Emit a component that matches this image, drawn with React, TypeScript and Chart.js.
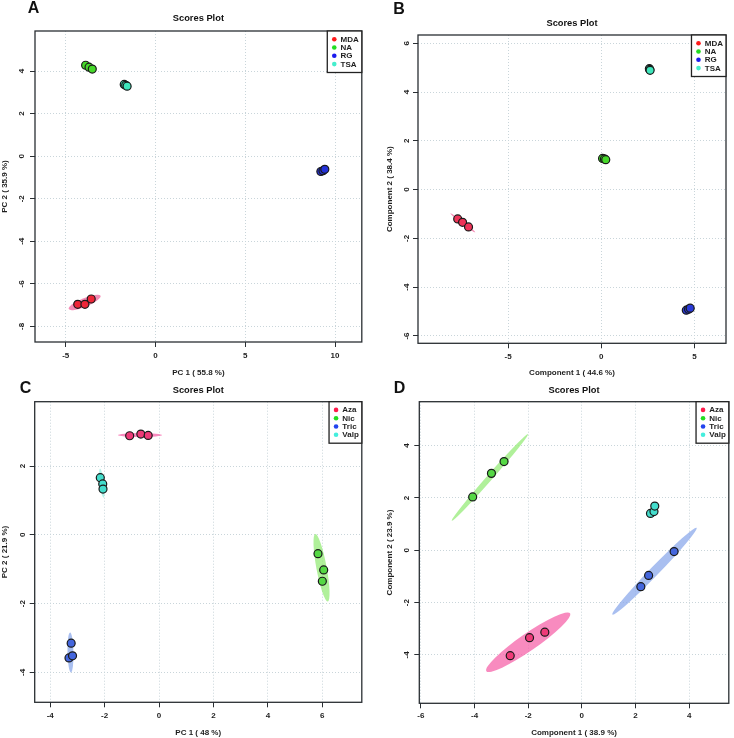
import React, { useEffect, useRef } from 'react';
import { Chart, registerables } from 'chart.js';

Chart.register(...registerables);

const FONT = "'Liberation Sans', Arial, Helvetica, sans-serif";

// ---------- Group names ----------
const groupsAB = ['MDA', 'NA', 'RG', 'TSA'];
const groupsCD = ['Aza', 'Nic', 'Tric', 'Valp'];

// ---------- Colours ----------
const legendColorsAB = ['#ff1a1a', '#22dd22', '#1a1aee', '#44eecc'];
const pointColorsA = ['#ee2638', '#46d82a', '#2432d8', '#3fe6bc'];
const pointColorsB = ['#ee3358', '#46d82a', '#2a3ad8', '#3fe6bc'];
const legendColorsCD = ['#ff1a4a', '#22dd22', '#2244ee', '#44eedd'];
const pointColorsCD = ['#ee3a78', '#55d844', '#4466dd', '#44ddcc'];
const ellipseColorsAB = ['rgba(240,90,150,0.7)'];
const ellipseColorsCD = ['rgba(245,100,170,0.75)', 'rgba(150,235,120,0.75)', 'rgba(140,170,235,0.75)', 'rgba(150,240,225,0.7)'];

// ---------- Panel A (PCA) ----------
const aMDA_x = [-4.33, -3.93, -3.58];
const aMDA_y = [-6.96, -6.96, -6.71];
const aNA_x = [-3.89, -3.70, -3.52];
const aNA_y = [4.27, 4.18, 4.09];
const aRG_x = [9.21, 9.33, 9.43];
const aRG_y = [-0.72, -0.68, -0.62];
const aTSA_x = [-1.74, -1.66, -1.58];
const aTSA_y = [3.37, 3.33, 3.29];
const aXTicks = [-5, 0, 5, 10];
const aYTicks = [-8, -6, -4, -2, 0, 2, 4];
// ellipse: [x1, y1, x2, y2, minor/major ratio, group index]
const aEllipses = [[-4.83, -7.18, -3.06, -6.56, 0.25, 0]];

// ---------- Panel B (PLS-DA) ----------
const bMDA_x = [-7.70, -7.44, -7.12];
const bMDA_y = [-1.20, -1.34, -1.53];
const bNA_x = [0.07, 0.17, 0.24];
const bNA_y = [1.28, 1.26, 1.23];
const bRG_x = [4.56, 4.68, 4.77];
const bRG_y = [-4.94, -4.90, -4.86];
const bTSA_x = [2.58, 2.60, 2.62];
const bTSA_y = [4.96, 4.93, 4.89];
const bXTicks = [-5, 0, 5];
const bYTicks = [-6, -4, -2, 0, 2, 4, 6];
const bEllipses = [[-8.1, -0.97, -6.76, -1.75, 0.07, 0]];

// ---------- Panel C (PCA) ----------
const cAza_x = [-1.08, -0.67, -0.40];
const cAza_y = [2.88, 2.93, 2.89];
const cNic_x = [5.84, 6.05, 6.00];
const cNic_y = [-0.55, -1.02, -1.35];
const cTric_x = [-3.23, -3.31, -3.18];
const cTric_y = [-3.15, -3.58, -3.52];
const cValp_x = [-2.16, -2.07, -2.06];
const cValp_y = [1.66, 1.48, 1.33];
const cXTicks = [-4, -2, 0, 2, 4, 6];
const cYTicks = [-4, -2, 0, 2];
const cEllipses = [
  [-1.51, 2.9, 0.11, 2.9, 0.09, 0],
  [5.74, 0.02, 6.2, -1.94, 0.15, 1],
  [-3.27, -2.84, -3.24, -4.0, 0.15, 2],
  [-2.17, 1.92, -2.04, 1.08, 0.14, 3],
];

// ---------- Panel D (PLS-DA) ----------
const dAza_x = [-2.67, -1.95, -1.38];
const dAza_y = [-4.03, -3.34, -3.13];
const dNic_x = [-4.07, -3.37, -2.90];
const dNic_y = [2.04, 2.94, 3.39];
const dTric_x = [2.20, 2.49, 3.44];
const dTric_y = [-1.39, -0.96, -0.05];
const dValp_x = [2.56, 2.69, 2.72];
const dValp_y = [1.41, 1.48, 1.69];
const dXTicks = [-6, -4, -2, 0, 2, 4];
const dYTicks = [-4, -2, 0, 2, 4];
const dEllipses = [
  [-3.56, -4.62, -0.44, -2.41, 0.17, 0],
  [-4.85, 1.13, -2.01, 4.44, 0.05, 1],
  [1.14, -2.46, 4.28, 0.86, 0.075, 2],
];

type PanelCfg = {
  letter: string;
  left: number; top: number; w: number; h: number;
  area: { l: number; r: number; t: number; b: number };
  titleY: number; xGap: number; xTitleY: number; yTitleX: number; yGap: number;
  letterPos: [number, number];
  xRange: [number, number]; yRange: [number, number];
  xTicks: number[]; yTicks: number[];
  xTitle: string; yTitle: string;
  groups: string[]; legendColors: string[]; pointColors: string[];
  xs: number[][]; ys: number[][];
  ellipses: number[][]; ellipseColors: string[];
};

const panels: PanelCfg[] = [
  {
    letter: 'A', left: 0, top: 0, w: 367, h: 380,
    area: { l: 35, r: 364, t: 31, b: 342 },
    titleY: 18.3, xGap: 14, xTitleY: 373, yTitleX: 5, yGap: 13, letterPos: [33.5, 9],
    xRange: [-6.71, 11.49], yRange: [-8.73, 5.88], xTicks: aXTicks, yTicks: aYTicks,
    xTitle: 'PC 1 ( 55.8 %)', yTitle: 'PC 2 ( 35.9 %)',
    groups: groupsAB, legendColors: legendColorsAB, pointColors: pointColorsA,
    xs: [aMDA_x, aNA_x, aRG_x, aTSA_x], ys: [aMDA_y, aNA_y, aRG_y, aTSA_y],
    ellipses: aEllipses, ellipseColors: ellipseColorsAB,
  },
  {
    letter: 'B', left: 367, top: 0, w: 367, h: 380,
    area: { l: 51, r: 359, t: 35, b: 343.3 },
    titleY: 23.3, xGap: 13.4, xTitleY: 373, yTitleX: 23, yGap: 11.7, letterPos: [32, 9.5],
    xRange: [-9.83, 6.69], yRange: [-6.30, 6.34], xTicks: bXTicks, yTicks: bYTicks,
    xTitle: 'Component 1 ( 44.6 %)', yTitle: 'Component 2 ( 38.4 %)',
    groups: groupsAB, legendColors: legendColorsAB, pointColors: pointColorsB,
    xs: [bMDA_x, bNA_x, bRG_x, bTSA_x], ys: [bMDA_y, bNA_y, bRG_y, bTSA_y],
    ellipses: bEllipses, ellipseColors: ellipseColorsAB,
  },
  {
    letter: 'C', left: 0, top: 369, w: 367, h: 369,
    area: { l: 34.7, r: 363.3, t: 32.7, b: 333.3 },
    titleY: 21.7, xGap: 13.4, xTitleY: 363.3, yTitleX: 5, yGap: 12, letterPos: [25.5, 19.5],
    xRange: [-4.57, 7.45], yRange: [-4.87, 3.87], xTicks: cXTicks, yTicks: cYTicks,
    xTitle: 'PC 1 ( 48 %)', yTitle: 'PC 2 ( 21.9 %)',
    groups: groupsCD, legendColors: legendColorsCD, pointColors: pointColorsCD,
    xs: [cAza_x, cNic_x, cTric_x, cValp_x], ys: [cAza_y, cNic_y, cTric_y, cValp_y],
    ellipses: cEllipses, ellipseColors: ellipseColorsCD,
  },
  {
    letter: 'D', left: 367, top: 369, w: 367, h: 369,
    area: { l: 52.3, r: 364, t: 32.7, b: 334.3 },
    titleY: 21.7, xGap: 12.4, xTitleY: 363.3, yTitleX: 23, yGap: 12.3, letterPos: [32.5, 20],
    xRange: [-6.06, 5.48], yRange: [-5.85, 5.68], xTicks: dXTicks, yTicks: dYTicks,
    xTitle: 'Component 1 ( 38.9 %)', yTitle: 'Component 2 ( 23.9 %)',
    groups: groupsCD, legendColors: legendColorsCD, pointColors: pointColorsCD,
    xs: [dAza_x, dNic_x, dTric_x, dValp_x], ys: [dAza_y, dNic_y, dTric_y, dValp_y],
    ellipses: dEllipses, ellipseColors: ellipseColorsCD,
  },
];

const AXIS_SIZE = 8;
const LH_AXIS = AXIS_SIZE * 1.2;
const TITLE_SIZE = 9.3;
const LH_TITLE = TITLE_SIZE * 1.2;
const TICK_LEN = 5;
const TEXT_COLOR = '#1e1e1e';
const GRID_COLOR = '#c9d5da';
const BOX_COLOR = '#2a2f33';

function buildConfig(cfg: PanelCfg): any {
  const xH = cfg.xTitleY + LH_AXIS / 2 - cfg.area.b;
  const titleTop = cfg.titleY - LH_TITLE / 2;
  const axisFont = { family: FONT, size: AXIS_SIZE, weight: 'bold' as const };

  const ellipsePlugin = {
    id: 'ellipses' + cfg.letter,
    beforeDatasetsDraw(chart: any) {
      const { ctx, chartArea, scales } = chart;
      const xs = scales.x, ys = scales.y;
      ctx.save();
      ctx.beginPath();
      ctx.rect(chartArea.left, chartArea.top, chartArea.right - chartArea.left, chartArea.bottom - chartArea.top);
      ctx.clip();
      for (const e of cfg.ellipses) {
        const x1 = xs.getPixelForValue(e[0]);
        const y1 = ys.getPixelForValue(e[1]);
        const x2 = xs.getPixelForValue(e[2]);
        const y2 = ys.getPixelForValue(e[3]);
        const cx = (x1 + x2) / 2, cy = (y1 + y2) / 2;
        const a = Math.hypot(x2 - x1, y2 - y1) / 2;
        const b = a * e[4];
        const ang = Math.atan2(y2 - y1, x2 - x1);
        ctx.beginPath();
        ctx.ellipse(cx, cy, a, b, ang, 0, Math.PI * 2);
        ctx.fillStyle = cfg.ellipseColors[e[5]];
        ctx.fill();
      }
      ctx.restore();
    },
  };

  const decoPlugin = {
    id: 'deco' + cfg.letter,
    afterDraw(chart: any) {
      const { ctx, chartArea } = chart;
      const { left, right, top, bottom } = chartArea;
      ctx.save();
      // plot box
      ctx.strokeStyle = BOX_COLOR;
      ctx.lineWidth = 1.3;
      ctx.strokeRect(left, top, right - left, bottom - top);
      // legend
      ctx.font = `bold 8px ${FONT}`;
      let maxW = 0;
      for (const g of cfg.groups) maxW = Math.max(maxW, ctx.measureText(g).width);
      const boxW = maxW + 16.3;
      const boxH = 41.5;
      const bx = right - boxW;
      ctx.fillStyle = '#ffffff';
      ctx.fillRect(bx, top, boxW, boxH);
      ctx.strokeStyle = '#222';
      ctx.lineWidth = 1.3;
      ctx.strokeRect(bx, top, boxW, boxH);
      cfg.groups.forEach((g, i) => {
        const iy = top + 8.2 + i * 8.3;
        ctx.beginPath();
        ctx.arc(bx + 7, iy, 2.3, 0, Math.PI * 2);
        ctx.fillStyle = cfg.legendColors[i];
        ctx.fill();
        ctx.fillStyle = TEXT_COLOR;
        ctx.textAlign = 'left';
        ctx.textBaseline = 'middle';
        ctx.fillText(g, bx + 13.3, iy + 0.3);
      });
      // panel letter
      ctx.font = `bold 16px ${FONT}`;
      ctx.fillStyle = '#111';
      ctx.textAlign = 'center';
      ctx.textBaseline = 'middle';
      ctx.fillText(cfg.letter, cfg.letterPos[0], cfg.letterPos[1]);
      ctx.restore();
    },
  };

  const datasets = cfg.groups.map((g, gi) => ({
    label: g,
    data: cfg.xs[gi].map((x, i) => ({ x, y: cfg.ys[gi][i] })),
    backgroundColor: cfg.pointColors[gi],
    borderColor: '#1a1a1a',
    borderWidth: 1.2,
    pointRadius: 4,
    pointHoverRadius: 4,
  }));

  const gridOpts = {
    color: GRID_COLOR,
    lineWidth: 1,
    drawTicks: true,
    tickLength: TICK_LEN,
    tickColor: BOX_COLOR,
    tickWidth: 1,
    tickBorderDash: [],
  };

  return {
    type: 'scatter',
    data: { datasets },
    options: {
      responsive: false,
      maintainAspectRatio: false,
      animation: false,
      events: [],
      layout: {
        padding: { left: 0, top: 0, right: cfg.w - cfg.area.r, bottom: cfg.h - cfg.area.b - xH },
      },
      plugins: {
        legend: { display: false },
        tooltip: { enabled: false },
        title: {
          display: true,
          text: 'Scores Plot',
          fullSize: false,
          color: '#111',
          font: { family: FONT, size: TITLE_SIZE, weight: 'bold', lineHeight: 1.2 },
          padding: { top: titleTop, bottom: cfg.area.t - titleTop - LH_TITLE },
        },
      },
      scales: {
        x: {
          type: 'linear',
          position: 'bottom',
          min: cfg.xRange[0],
          max: cfg.xRange[1],
          afterBuildTicks: (s: any) => { s.ticks = cfg.xTicks.map((v) => ({ value: v })); },
          afterFit: (s: any) => { s.height = xH; },
          grid: gridOpts,
          border: { display: false, dash: [1, 2] },
          ticks: {
            font: axisFont,
            color: TEXT_COLOR,
            padding: cfg.xGap - TICK_LEN - LH_AXIS / 2,
            autoSkip: false,
            maxRotation: 0,
            minRotation: 0,
          },
          title: { display: true, text: cfg.xTitle, font: axisFont, color: TEXT_COLOR, padding: { top: 0, bottom: 0 } },
        },
        y: {
          type: 'linear',
          position: 'left',
          min: cfg.yRange[0],
          max: cfg.yRange[1],
          afterBuildTicks: (s: any) => { s.ticks = cfg.yTicks.map((v) => ({ value: v })); },
          afterFit: (s: any) => { s.width = cfg.area.l; },
          grid: gridOpts,
          border: { display: false, dash: [1, 2] },
          ticks: {
            font: axisFont,
            color: TEXT_COLOR,
            padding: cfg.yGap - TICK_LEN - 3.6,
            autoSkip: false,
            minRotation: 90,
            maxRotation: 90,
            crossAlign: 'center',
          },
          title: { display: true, text: cfg.yTitle, font: axisFont, color: TEXT_COLOR, padding: { top: Math.max(0, cfg.yTitleX - LH_AXIS / 2), bottom: 0 } },
        },
      },
    },
    plugins: [ellipsePlugin, decoPlugin],
  };
}

function Panel({ cfg }: { cfg: PanelCfg }) {
  const ref = useRef<HTMLCanvasElement | null>(null);
  useEffect(() => {
    if (!ref.current) return;
    const chart = new Chart(ref.current, buildConfig(cfg));
    return () => chart.destroy();
  }, [cfg]);
  return (
    <canvas
      ref={ref}
      width={cfg.w}
      height={cfg.h}
      style={{ position: 'absolute', left: cfg.left, top: cfg.top, width: cfg.w, height: cfg.h }}
    />
  );
}

export default function App() {
  return (
    <div style={{ position: 'absolute', left: 0, top: 0, width: 734, height: 738, background: '#ffffff', overflow: 'hidden' }}>
      {panels.map((p) => (
        <Panel key={p.letter} cfg={p} />
      ))}
    </div>
  );
}
